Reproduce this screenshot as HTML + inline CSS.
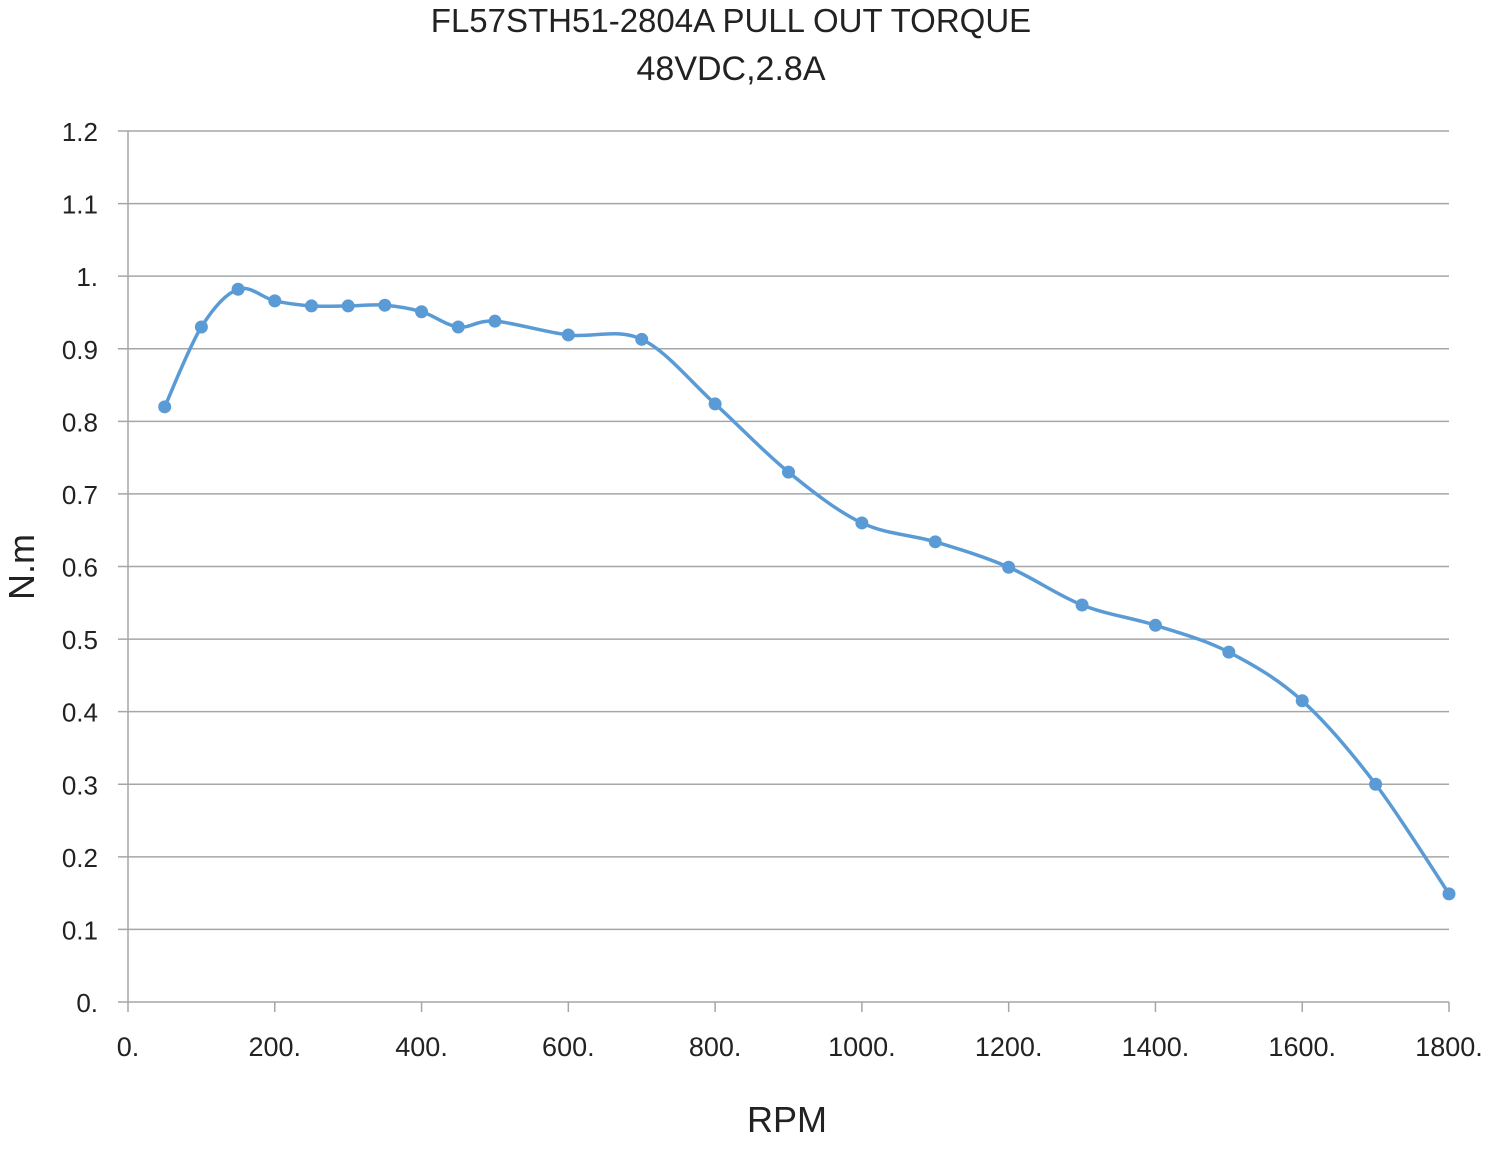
<!DOCTYPE html>
<html><head><meta charset="utf-8"><style>
body{margin:0;background:#fff;}
svg text{font-family:"Liberation Sans",sans-serif;fill:#222;}
</style></head><body>
<svg id="chart" width="1500" height="1145" xmlns="http://www.w3.org/2000/svg">
<text x="731" y="32" font-size="33" text-anchor="middle">FL57STH51-2804A PULL OUT TORQUE</text>
<text x="731" y="80" font-size="34" text-anchor="middle">48VDC,2.8A</text>
<text transform="translate(34,567) rotate(-90)" font-size="36" text-anchor="middle">N.m</text>
<text x="787" y="1132" font-size="36" text-anchor="middle">RPM</text>
<g id="grid"></g><g id="axes"></g><g id="series"></g>
</svg>
<script>
const rpm=[50,100,150,200,250,300,350,400,450,500,600,700,800,900,1000,1100,1200,1300,1400,1500,1600,1700,1800];
const torque=[0.820,0.930,0.982,0.966,0.959,0.959,0.960,0.951,0.930,0.938,0.919,0.913,0.824,0.730,0.660,0.634,0.599,0.547,0.519,0.482,0.415,0.300,0.149];
const yTicks=[0,0.1,0.2,0.3,0.4,0.5,0.6,0.7,0.8,0.9,1,1.1,1.2];
const yTickLabels=["0.","0.1","0.2","0.3","0.4","0.5","0.6","0.7","0.8","0.9","1.","1.1","1.2"];
const xTicks=[0,200,400,600,800,1000,1200,1400,1600,1800];
const xTickLabels=["0.","200.","400.","600.","800.","1000.","1200.","1400.","1600.","1800."];
const X0=128,X1=1449,Y0=1002,Y1=131;
const xs=v=>X0+(v-0)/1800*(X1-X0);
const ys=v=>Y0-(v/1.2)*(Y0-Y1);
const NS="http://www.w3.org/2000/svg";
function mk(t,a,p){const e=document.createElementNS(NS,t);for(const k in a)e.setAttribute(k,a[k]);p.appendChild(e);return e;}
const grid=document.getElementById('grid'),axes=document.getElementById('axes'),ser=document.getElementById('series');
yTicks.forEach((v,i)=>{
 const l=mk('line',{x1:118,x2:X1,y1:ys(v),y2:ys(v),stroke:'#a6a6a6','stroke-width':1.5},grid);
 
 
 const t=mk('text',{x:98,y:ys(v)+10,'font-size':26,'text-anchor':'end'},axes);
 t.textContent=yTickLabels[i];
 
 
});
const ya=mk('line',{x1:X0,x2:X0,y1:Y1,y2:Y0,stroke:'#a6a6a6','stroke-width':1.5},axes);


xTicks.forEach((v,i)=>{
 const tk=mk('line',{x1:xs(v),x2:xs(v),y1:Y0,y2:Y0+10,stroke:'#a6a6a6','stroke-width':1.5},axes);
 
 
 const t=mk('text',{x:xs(v),y:1056,'font-size':27,'text-anchor':'middle'},axes);
 t.textContent=xTickLabels[i];
 
 
});
const P=rpm.map((r,i)=>[xs(r),ys(torque[i])]);
let d='M'+P[0][0]+','+P[0][1];
for(let i=0;i<P.length-1;i++){
 const p0=P[i-1]||P[i],p1=P[i],p2=P[i+1],p3=P[i+2]||P[i+1];
 const c1=[p1[0]+(p2[0]-p0[0])/6,p1[1]+(p2[1]-p0[1])/6];
 const c2=[p2[0]-(p3[0]-p1[0])/6,p2[1]-(p3[1]-p1[1])/6];
 d+=` C${c1[0]},${c1[1]} ${c2[0]},${c2[1]} ${p2[0]},${p2[1]}`;
}
const path=mk('path',{d:d,fill:'none',stroke:'#5b9bd5','stroke-width':3.5},ser);


P.forEach(p=>{
 const c=mk('circle',{cx:p[0],cy:p[1],r:6.5,fill:'#5b9bd5'},ser);
 
 
});
</script>
</body></html>
